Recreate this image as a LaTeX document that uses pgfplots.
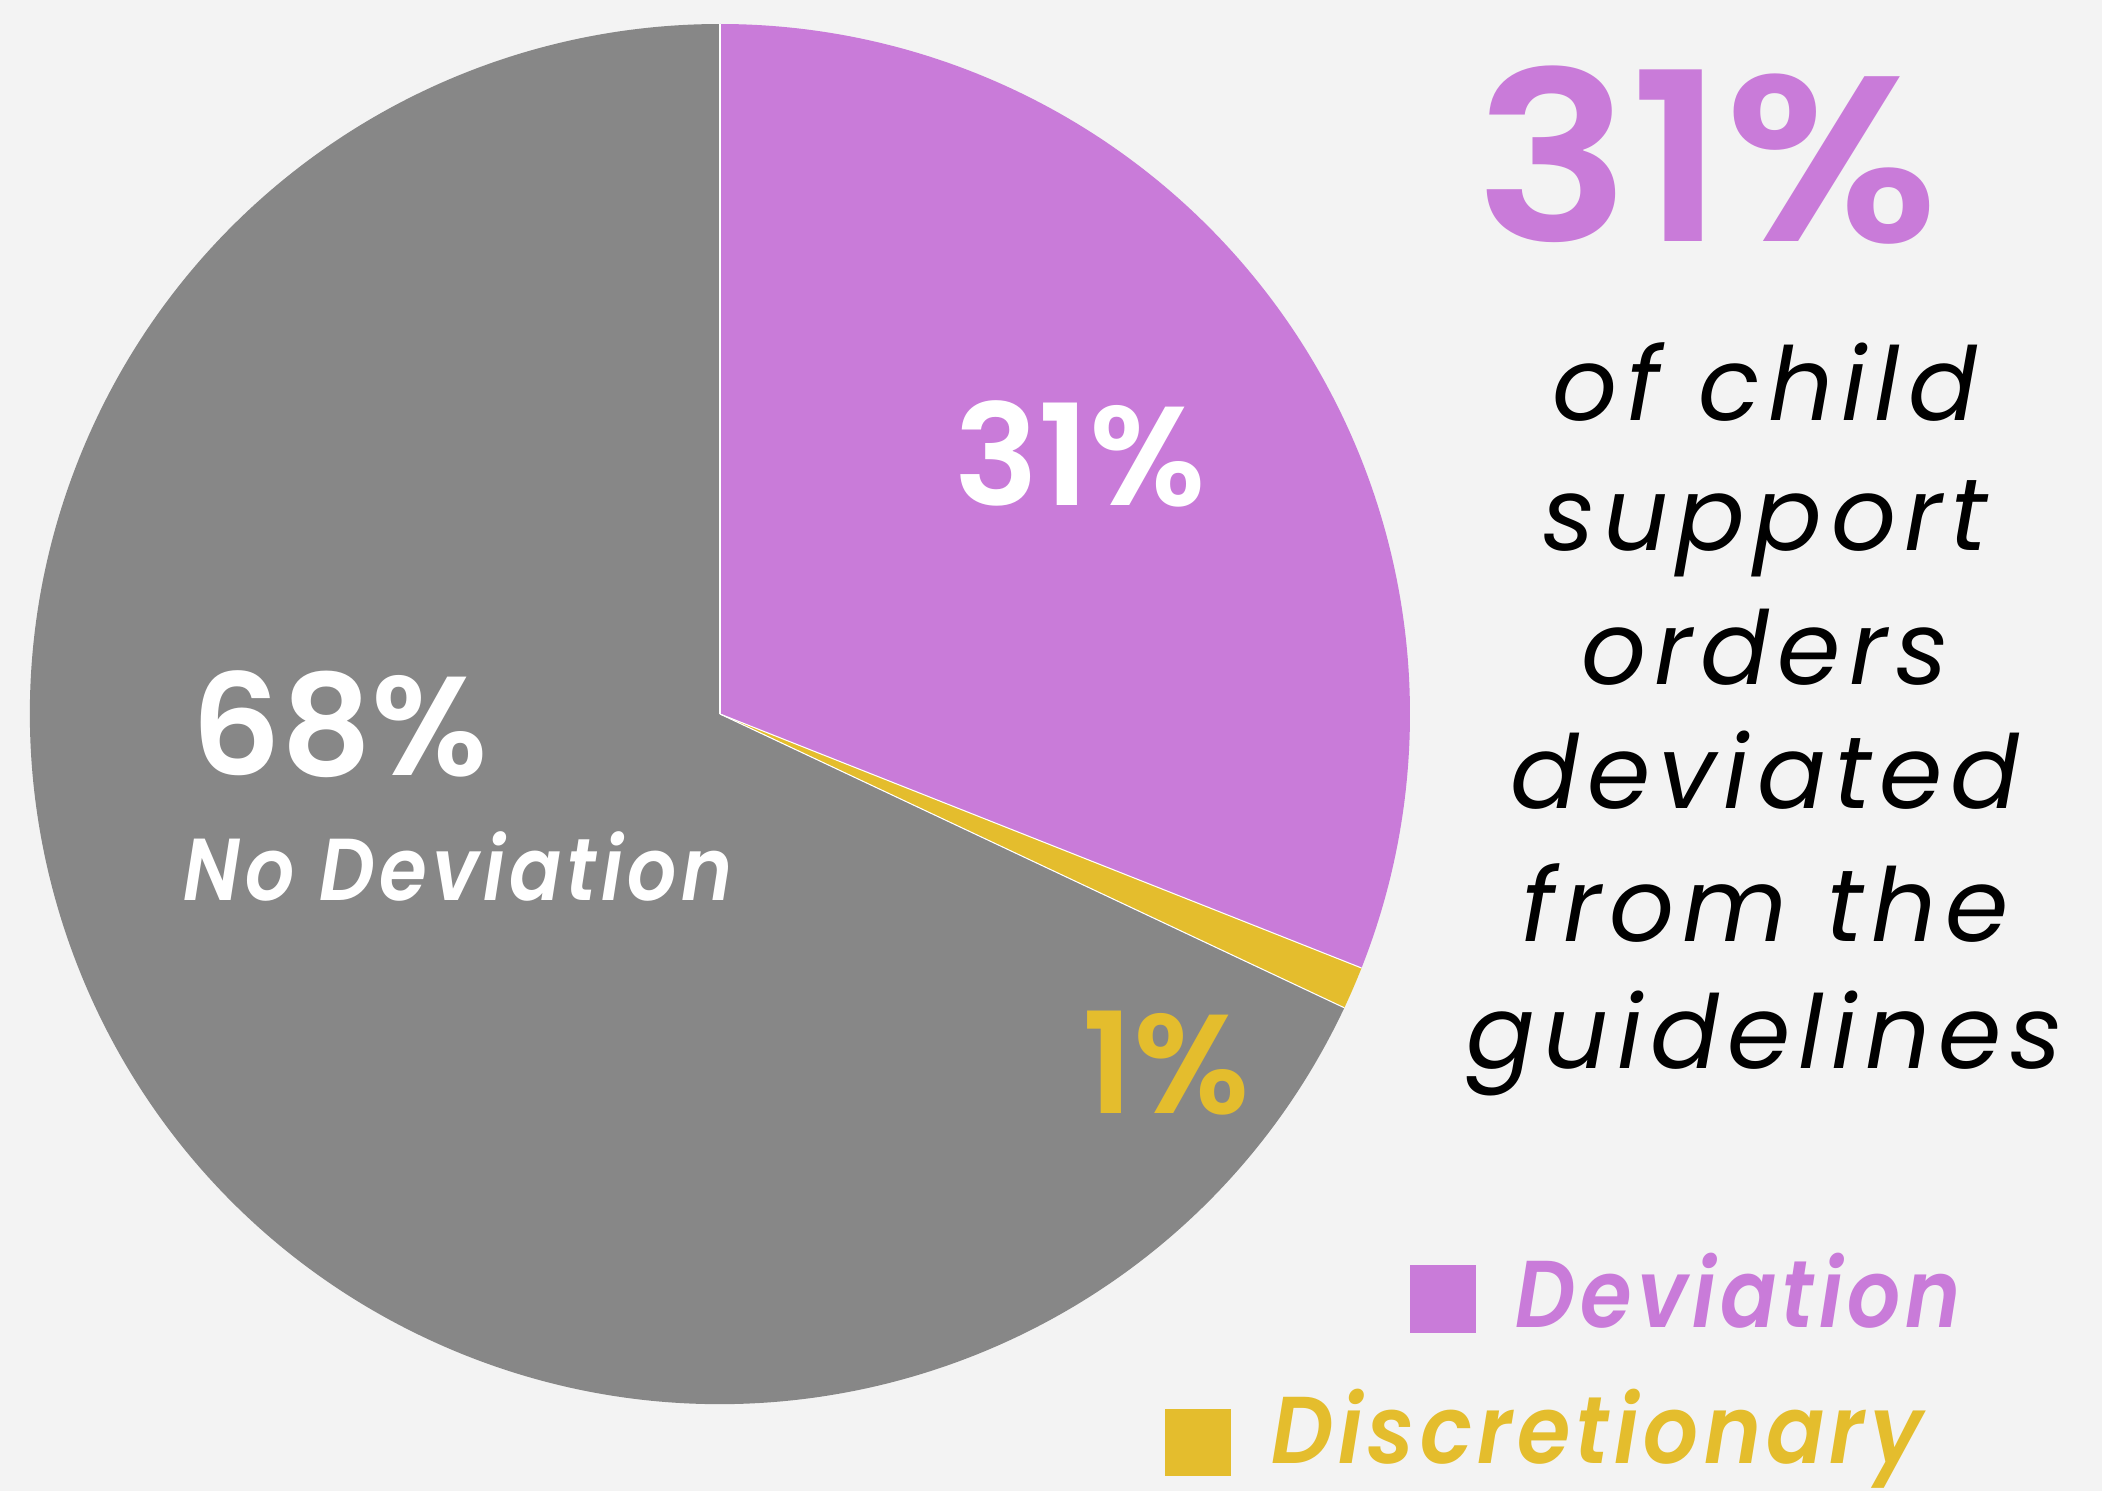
\documentclass[border=0pt]{standalone}
\usepackage{pgfplots}
\pgfplotsset{compat=1.18}
\usepackage{fontspec}
\setmainfont{Poppins}[BoldFont={Poppins SemiBold}, BoldItalicFont={Poppins SemiBold Italic}]
\newfontfamily\descfont{Poppins}[LetterSpace=8]
\newfontfamily\labfont{Poppins}[LetterSpace=6, BoldFont={Poppins SemiBold}, BoldItalicFont={Poppins SemiBold Italic}]

\definecolor{bgcol}{HTML}{F3F3F3}
\definecolor{devcol}{HTML}{C97BD9}
\definecolor{disccol}{HTML}{E4BD2D}
\definecolor{nodevcol}{HTML}{878787}

% shares in percent
\def\devval{31}
\def\discval{1}
\def\nodevval{68}
\pgfmathsetmacro\aA{90-3.6*\devval}
\pgfmathsetmacro\aB{\aA-3.6*\discval}
\pgfmathsetmacro\aC{\aB-3.6*\nodevval}

\begin{document}
\begin{tikzpicture}
\begin{axis}[
    scale only axis,
    width=210.2mm, height=149.1mm,
    xmin=0, xmax=2102, ymin=0, ymax=1491,
    hide axis, clip=false
]
\fill[bgcol] (axis cs:0,0) rectangle (axis cs:2102,1491);

% pie, centre (720,777), radius 69mm
\fill[devcol] (axis cs:720,777) -- ++(90:69mm) arc[start angle=90, end angle=\aA, radius=69mm] -- cycle;
\fill[disccol] (axis cs:720,777) -- ++(\aA:69mm) arc[start angle=\aA, end angle=\aB, radius=69mm] -- cycle;
\fill[nodevcol] (axis cs:720,777) -- ++(\aB:69mm) arc[start angle=\aB, end angle=\aC, radius=69mm] -- cycle;
\draw[white, line width=0.3pt] (axis cs:720,777) -- ++(90:69mm);
\draw[white, line width=0.3pt] (axis cs:720,777) -- ++(\aA:69mm);
\draw[white, line width=0.3pt] (axis cs:720,777) -- ++(\aB:69mm);

% slice labels
\node[anchor=base, inner sep=0, text=white, font=\fontsize{40}{40}\selectfont\bfseries]
    at (axis cs:1080,986) {31\%};
\node[anchor=base, inner sep=0, text=white, font=\fontsize{40}{40}\selectfont\bfseries]
    at (axis cs:340,716) {68\%};
\node[anchor=base, inner sep=0, text=white, font=\labfont\fontsize{25}{25}\selectfont\bfseries\itshape]
    at (axis cs:458,591) {\scalebox{0.88}[1]{No Deviation}};
\node[anchor=base, inner sep=0, text=disccol, font=\fontsize{40}{40}\selectfont\bfseries]
    at (axis cs:1166,378) {1\%};

% headline
\node[anchor=base, inner sep=0, text=devcol, font=\fontsize{67}{67}\selectfont\bfseries]
    at (axis cs:1707,1249) {\scalebox{1.1}[1]{31\%}};
\node[anchor=base, inner sep=0, font=\descfont\itshape\fontsize{29}{29}\selectfont] at (axis cs:1765,1071) {of child};
\node[anchor=base, inner sep=0, font=\descfont\itshape\fontsize{29}{29}\selectfont] at (axis cs:1765,941) {support};
\node[anchor=base, inner sep=0, font=\descfont\itshape\fontsize{29}{29}\selectfont] at (axis cs:1765,807) {orders};
\node[anchor=base, inner sep=0, font=\descfont\itshape\fontsize{29}{29}\selectfont] at (axis cs:1765,683) {deviated};
\node[anchor=base, inner sep=0, font=\descfont\itshape\fontsize{29}{29}\selectfont] at (axis cs:1765,550) {from the};
\node[anchor=base, inner sep=0, font=\descfont\itshape\fontsize{29}{29}\selectfont] at (axis cs:1765,423) {guidelines};

% legend
\fill[devcol] (axis cs:1410,158) rectangle (axis cs:1476,226);
\node[anchor=base west, inner sep=0, text=devcol, font=\labfont\fontsize{27}{27}\selectfont\bfseries\itshape]
    at (axis cs:1515,164) {\scalebox{0.88}[1]{Deviation}};
\fill[disccol] (axis cs:1165,15) rectangle (axis cs:1231,82);
\node[anchor=base west, inner sep=0, text=disccol, font=\labfont\fontsize{27}{27}\selectfont\bfseries\itshape]
    at (axis cs:1271,28) {\scalebox{0.91}[1]{Discretionary}};
\end{axis}
\pgfresetboundingbox
\path[use as bounding box] (current axis.south west) rectangle (current axis.north east);
\end{tikzpicture}
\end{document}
